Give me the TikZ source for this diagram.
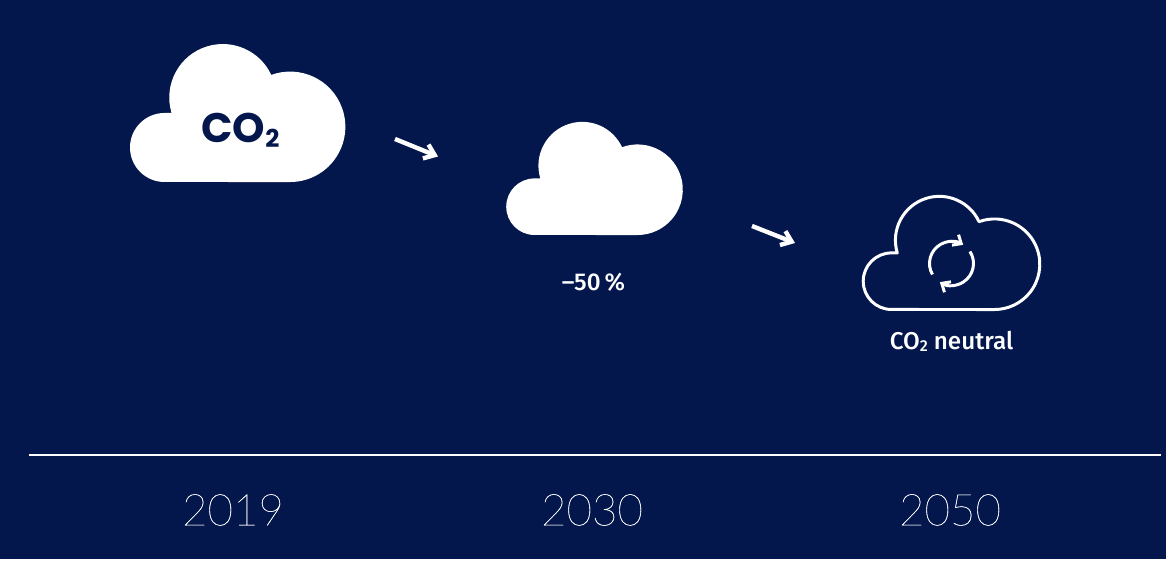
\documentclass[tikz,border=0pt]{standalone}
\usepackage{fontspec}
\setmainfont{Fira Sans Medium}
\newfontfamily\yearfont[FakeBold=0.35]{Lato Thin}
\newfontfamily\heavyfont{Poppins Bold}
\usepackage{tikz}
\usetikzlibrary{calc,positioning,arrows.meta}
\definecolor{navy}{HTML}{03174D}
\newcommand{\cloudpath}{(0,0) arc (270:90:0.69) -- (0.141,1.38) arc (196.8:25:1.07) arc (110:-90:1.1043) -- cycle}
\tikzset{
  yearlabel/.style={text=white,font=\yearfont\fontsize{25}{28}\selectfont,anchor=center},
  steplabel/.style={text=white,font=\fontsize{13.8}{16}\selectfont,anchor=center},
  trendarrow/.style={white,line width=2.5pt,-{Straight Barb[length=5.5pt,width=8.5pt,line width=2.5pt]}},
  cyclearrow/.style={white,line width=1.7pt,-{Straight Barb[length=4pt,width=7pt,line width=1.7pt]}},
}
\begin{document}
\begin{tikzpicture}
  \useasboundingbox (0,0) rectangle (23.32,11.3);
  \fill[navy] (0,0.12) rectangle (23.32,11.3);
  % clouds
  \fill[white,shift={(3.29,7.66)}] \cloudpath;
  \fill[white,shift={(10.69,6.60)},scale=0.82] \cloudpath;
  \draw[white,line width=1.7pt,line join=round,shift={(17.83,5.11)},scale=0.82] \cloudpath;
  % labels
  \node[font=\heavyfont\fontsize{23.5}{28}\selectfont,text=navy] (co2) at (4.81,8.70) {CO\raisebox{-3pt}{\fontsize{14}{16}\selectfont 2}};
  \node[steplabel] (half) at (11.87,5.66) {–50\,\%};
  \node[steplabel] (neutral) at (19.03,4.47) {CO\raisebox{-1.5pt}{\fontsize{9}{10}\selectfont 2} neutral};
  % arrows
  \coordinate (ArrowAs) at (7.90,8.52);
  \coordinate (ArrowAe) at (8.76,8.17);
  \coordinate (ArrowBs) at (15.04,6.78);
  \coordinate (ArrowBe) at (15.90,6.44);
  \draw[trendarrow] (ArrowAs)--(ArrowAe);
  \draw[trendarrow] (ArrowBs)--(ArrowBe);
  % cycle
  \coordinate (CycleC) at (19.03,6.03);
  \draw[cyclearrow] ($(CycleC)+(210:0.44)$) arc (210:58:0.44);
  \draw[cyclearrow] ($(CycleC)+(33:0.44)$) arc (33:-122:0.44);
  % timeline
  \coordinate (LineS) at (0.58,2.20);
  \coordinate (LineE) at (23.22,2.20);
  \draw[white,line width=1.1pt] (LineS)--(LineE);
  \node[yearlabel] (yA) at (4.66,1.10) {2019};
  \node[yearlabel] (yB) at (11.84,1.10) {2030};
  \node[yearlabel] (yC) at (19.00,1.10) {2050};
\end{tikzpicture}
\end{document}
